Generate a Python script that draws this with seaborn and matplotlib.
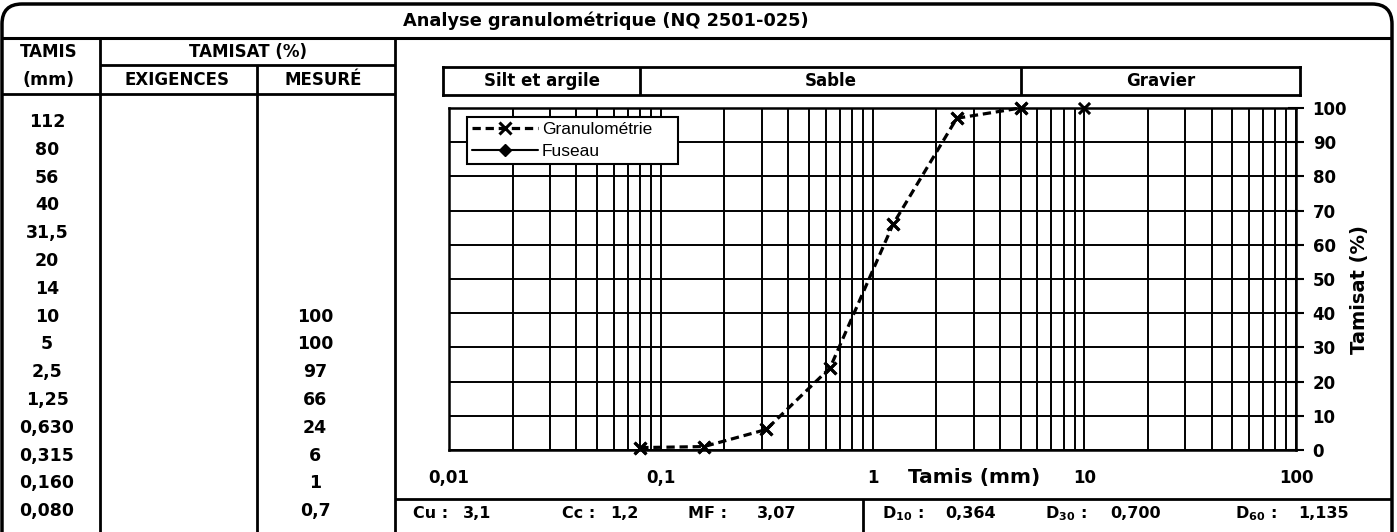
import numpy as np
import pandas as pd
import matplotlib
matplotlib.use("Agg")
import matplotlib.pyplot as plt
import seaborn as sns
from matplotlib.patches import FancyBboxPatch
from matplotlib.lines import Line2D
from matplotlib.ticker import LogLocator, FixedLocator, FixedFormatter, NullFormatter

# ---------------- data ----------------
title = "Analyse granulométrique (NQ 2501-025)"
tamis_labels = ["112", "80", "56", "40", "31,5", "20", "14", "10", "5",
                "2,5", "1,25", "0,630", "0,315", "0,160", "0,080"]
exigences = [None] * 15
mesure = [None, None, None, None, None, None, None,
          100, 100, 97, 66, 24, 6, 1, 0.7]
courbe_max_mm = 5          # the dashed curve stops at the 5 mm sieve
class_names = ["Silt et argile", "Sable", "Gravier"]
class_bounds = [0.08, 5]
x_ticks = [0.01, 0.1, 1, 10, 100]
x_tick_labels = ["0,01", "0,1", "1", "10", "100"]
y_ticks = [0, 10, 20, 30, 40, 50, 60, 70, 80, 90, 100]
stats_left = [("Cu :", "3,1"), ("Cc :", "1,2"), ("MF :", "3,07")]
stats_right = [("D$_{\\mathbf{10}}$ :", "0,364"), ("D$_{\\mathbf{30}}$ :", "0,700"),
               ("D$_{\\mathbf{60}}$ :", "1,135")]

tamis_mm = [float(s.replace(",", ".")) for s in tamis_labels]
df = pd.DataFrame({"tamis": tamis_mm, "mesure": mesure}).dropna()
df["mesure"] = df["mesure"].astype(float)
df_line = df[df["tamis"] <= courbe_max_mm]

# ---------------- style ----------------
sns.set_style("white")
plt.rcParams["font.family"] = ["DejaVu Sans"]
plt.rcParams["font.weight"] = "bold"
plt.rcParams["mathtext.fontset"] = "dejavusans"
for k in ["text.color", "axes.labelcolor", "xtick.color", "ytick.color", "axes.edgecolor"]:
    plt.rcParams[k] = "black"

W, H = 1397, 532
fig = plt.figure(figsize=(W / 100, H / 100), dpi=100)
fig.patch.set_facecolor("white")


def fx(px):
    return px / W


def fy(py):
    return 1 - py / H


def hline(x0, x1, y, lw=2.0):
    fig.add_artist(Line2D([fx(x0), fx(x1)], [fy(y), fy(y)], transform=fig.transFigure,
                          color="black", lw=lw, solid_capstyle="butt"))


def vline(x, y0, y1, lw=2.0):
    fig.add_artist(Line2D([fx(x), fx(x)], [fy(y0), fy(y1)], transform=fig.transFigure,
                          color="black", lw=lw, solid_capstyle="butt"))


def ftext(px, py, s, size=12, ha="center", **kw):
    fig.text(fx(px), fy(py), s, ha=ha, va="center", fontsize=size,
             fontweight="bold", color="black", **kw)


# outer rounded frame (pixel-based, via inches)
frame = FancyBboxPatch((2 / 100, -30 / 100), (1392 - 2) / 100, (H - 4 + 30) / 100,
                       boxstyle="round,pad=0,rounding_size=0.2",
                       transform=fig.dpi_scale_trans, fill=False, lw=2.5,
                       edgecolor="black")
fig.add_artist(frame)

# title row
ftext(606, 21, title, size=12.8)
hline(2, 1392, 38, lw=2.2)

# ---------------- left table ----------------
vline(100, 38, 540)
vline(257, 65, 540)
vline(395, 38, 540)
hline(100, 395, 65)
hline(2, 395, 94)
ftext(49, 52, "TAMIS", size=12)
ftext(49, 80, "(mm)", size=12.5)
ftext(248, 52, "TAMISAT (%)", size=12)
ftext(177, 80, "EXIGENCES", size=12)
ftext(323, 80, "MESURÉ", size=12)

row_y0, row_dy = 122, 27.8
for i, (lab, ex, me) in enumerate(zip(tamis_labels, exigences, mesure)):
    y = row_y0 + i * row_dy
    ftext(47, y, lab, size=12.5)
    if ex is not None:
        ftext(179, y, f"{ex:g}".replace(".", ","), size=12.5)
    if me is not None:
        ftext(315, y, f"{me:g}".replace(".", ","), size=12.5)

# ---------------- bottom stats row ----------------
hline(395, 1392, 499)
vline(863, 499, 540)
left_pos = [(413, 463), (562, 610), (688, 757)]
for (lab, val), (xl, xv) in zip(stats_left, left_pos):
    ftext(xl, 514, lab, size=11.5, ha="left")
    ftext(xv, 514, val, size=11.5, ha="left")
right_pos = [(882, 945), (1045, 1110), (1235, 1298)]
for (lab, val), (xl, xv) in zip(stats_right, right_pos):
    ftext(xl, 514, lab, size=11.5, ha="left")
    ftext(xv, 514, val, size=11.5, ha="left")

# ---------------- main chart ----------------
AX_L, AX_R, AX_T, AX_B = 449, 1296, 108, 450
ax = fig.add_axes([fx(AX_L), fy(AX_B), (AX_R - AX_L) / W, (AX_B - AX_T) / H])
ax.set_facecolor("white")

sns.lineplot(data=df_line, x="tamis", y="mesure", ax=ax, color="black",
             linestyle=(0, (2.6, 1.5)), lw=2.3, marker="x", markersize=8,
             markeredgewidth=2.2, markeredgecolor="black", errorbar=None,
             sort=True, zorder=4, clip_on=False)
sns.scatterplot(data=df, x="tamis", y="mesure", ax=ax, marker="x", color="black",
                s=64, linewidth=2.2, legend=False, zorder=5, clip_on=False)
fuseau_line, = ax.plot([], [], color="black", lw=1.5, marker="D", markersize=6,
                       label="Fuseau")

ax.set_xscale("log")
ax.set_xlim(x_ticks[0], x_ticks[-1])
ax.set_ylim(y_ticks[0], y_ticks[-1])

ax.xaxis.set_major_locator(FixedLocator(x_ticks))
ax.xaxis.set_major_formatter(FixedFormatter(x_tick_labels))
ax.xaxis.set_minor_locator(LogLocator(base=10, subs=np.arange(2, 10)))
ax.xaxis.set_minor_formatter(NullFormatter())
ax.yaxis.set_major_locator(FixedLocator(y_ticks))

ax.grid(True, which="both", axis="x", color="black", lw=1.4)
ax.grid(True, which="major", axis="y", color="black", lw=1.4)
ax.set_axisbelow(True)

ax.yaxis.tick_right()
ax.yaxis.set_label_position("right")
ax.tick_params(axis="x", which="major", direction="inout", length=10, width=1.5,
               labelsize=12, pad=9, colors="black")
ax.tick_params(axis="x", which="minor", length=0)
ax.tick_params(axis="y", which="major", direction="inout", length=12, width=1.5,
               labelsize=12, pad=6, colors="black", right=True, left=False)
for lbl in ax.get_xticklabels() + ax.get_yticklabels():
    lbl.set_fontweight("bold")

for sp in ax.spines.values():
    sp.set_color("black")
    sp.set_linewidth(1.8)

ax.set_xlabel("Tamis (mm)", fontsize=14.5, fontweight="bold", color="black")
ax.xaxis.set_label_coords((974 - AX_L) / (AX_R - AX_L), (AX_B - 477) / (AX_B - AX_T))
ax.xaxis.label.set_va("center")
ax.set_ylabel("Tamisat (%)", fontsize=14, fontweight="bold", color="black")
ax.yaxis.set_label_coords((1360 - AX_L) / (AX_R - AX_L), (AX_B - 290) / (AX_B - AX_T))
ax.yaxis.label.set_va("center")
ax.yaxis.label.set_ha("center")

handles = [ax.lines[0], fuseau_line]
lx0 = (467 - AX_L) / (AX_R - AX_L)
ly1 = (AX_B - 117) / (AX_B - AX_T)
lw_ = (678 - 467) / (AX_R - AX_L)
lh_ = (163 - 117) / (AX_B - AX_T)
leg = ax.legend(handles, ["Granulométrie", "Fuseau"], loc="upper left",
                bbox_to_anchor=(lx0, ly1 - lh_, lw_, lh_), mode="expand",
                borderaxespad=0, frameon=True, fancybox=False, framealpha=1,
                edgecolor="black", handlelength=3.8, handletextpad=0.2,
                borderpad=0.3, labelspacing=0.35, numpoints=1,
                prop={"family": "Liberation Sans", "size": 12.5, "weight": "normal"})
leg.get_frame().set_linewidth(1.5)
leg.set_zorder(10)

# ---------------- soil class band ----------------
B_L, B_R, B_T, B_B = 443, 1300, 67, 95
decade_px = (AX_R - AX_L) / np.log10(x_ticks[-1] / x_ticks[0])
lo = 10 ** (np.log10(x_ticks[0]) + (B_L - AX_L) / decade_px)
hi = 10 ** (np.log10(x_ticks[-1]) + (B_R - AX_R) / decade_px)
axb = fig.add_axes([fx(B_L), fy(B_B), (B_R - B_L) / W, (B_B - B_T) / H])
axb.set_xscale("log")
axb.set_xlim(lo, hi)
axb.set_ylim(0, 1)
axb.set_xticks([])
axb.set_yticks([])
axb.xaxis.set_minor_locator(FixedLocator([]))
for sp in axb.spines.values():
    sp.set_color("black")
    sp.set_linewidth(2.0)
for b in class_bounds:
    axb.axvline(b, color="black", lw=2.0)
edges = [lo] + class_bounds + [hi]
for name, e0, e1 in zip(class_names, edges[:-1], edges[1:]):
    axb.text(np.sqrt(e0 * e1), 0.5, name, ha="center", va="center",
             fontsize=12, fontweight="bold", color="black")

fig.savefig("out.png", dpi=100, facecolor="white")
